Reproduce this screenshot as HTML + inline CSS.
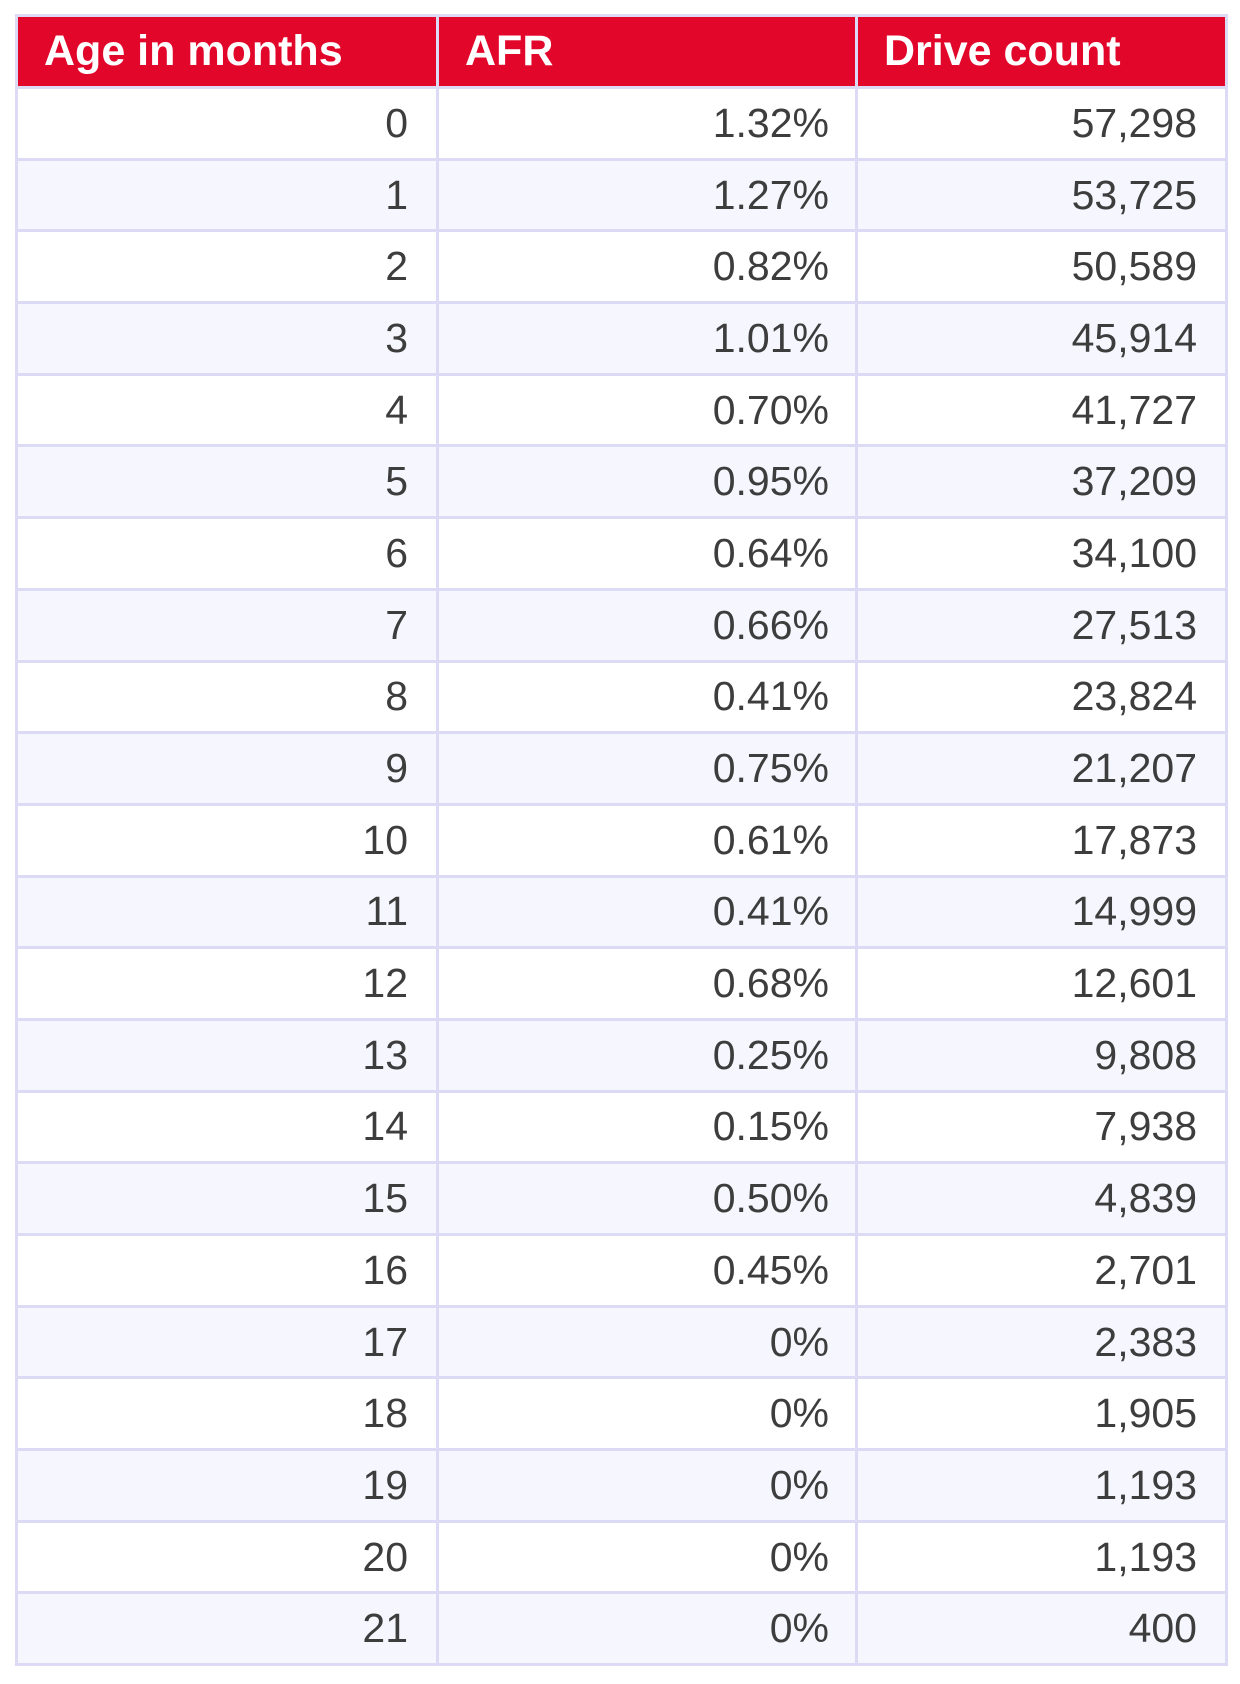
<!DOCTYPE html>
<html><head><style>
body{margin:0;background:#fff;width:1240px;height:1684px;font-family:"Liberation Sans",sans-serif;}
table{position:absolute;left:15px;top:14px;border-collapse:collapse;width:1210px;table-layout:fixed;}
td,th{border:3px solid #dcdaf5;padding:0 28px;font-size:41px;color:#3d3d3d;text-align:right;box-sizing:border-box;}
td{height:71.7px;}
td:nth-child(2){padding-right:26px;}
th{background:#e2062a;color:#fff;text-align:left;font-weight:bold;font-size:43px;height:72px;padding-left:26px;}
tr:nth-child(odd) td{background:#f6f6fe;}
tr:nth-child(even) td{background:#fff;}
</style></head><body>
<table>
<colgroup><col style="width:421px"><col style="width:419px"><col style="width:370px"></colgroup>
<tr><th>Age in months</th><th>AFR</th><th>Drive count</th></tr>
<tr><td>0</td><td>1.32%</td><td>57,298</td></tr>
<tr><td>1</td><td>1.27%</td><td>53,725</td></tr>
<tr><td>2</td><td>0.82%</td><td>50,589</td></tr>
<tr><td>3</td><td>1.01%</td><td>45,914</td></tr>
<tr><td>4</td><td>0.70%</td><td>41,727</td></tr>
<tr><td>5</td><td>0.95%</td><td>37,209</td></tr>
<tr><td>6</td><td>0.64%</td><td>34,100</td></tr>
<tr><td>7</td><td>0.66%</td><td>27,513</td></tr>
<tr><td>8</td><td>0.41%</td><td>23,824</td></tr>
<tr><td>9</td><td>0.75%</td><td>21,207</td></tr>
<tr><td>10</td><td>0.61%</td><td>17,873</td></tr>
<tr><td>11</td><td>0.41%</td><td>14,999</td></tr>
<tr><td>12</td><td>0.68%</td><td>12,601</td></tr>
<tr><td>13</td><td>0.25%</td><td>9,808</td></tr>
<tr><td>14</td><td>0.15%</td><td>7,938</td></tr>
<tr><td>15</td><td>0.50%</td><td>4,839</td></tr>
<tr><td>16</td><td>0.45%</td><td>2,701</td></tr>
<tr><td>17</td><td>0%</td><td>2,383</td></tr>
<tr><td>18</td><td>0%</td><td>1,905</td></tr>
<tr><td>19</td><td>0%</td><td>1,193</td></tr>
<tr><td>20</td><td>0%</td><td>1,193</td></tr>
<tr><td>21</td><td>0%</td><td>400</td></tr>
</table>
</body></html>
